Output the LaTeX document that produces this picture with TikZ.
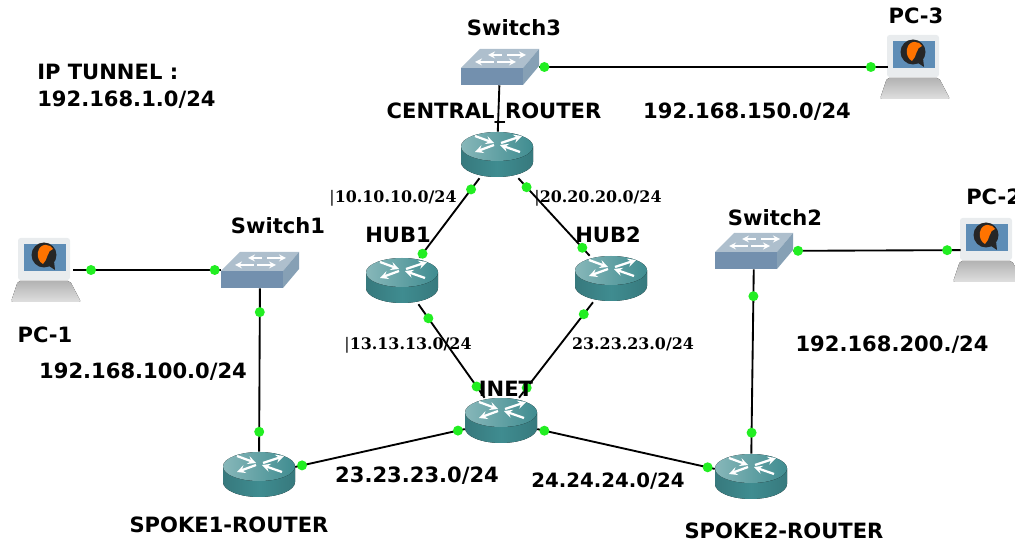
\documentclass[tikz,border=0pt]{standalone}
\usepackage{fontspec}
\setmainfont{DejaVu Sans}
\newfontfamily\netserif{DejaVu Serif}
\usepackage{tikz}
\usetikzlibrary{arrows}
\definecolor{routertop}{HTML}{5F9FA2}
\definecolor{routerbody}{HTML}{3F8C90}
\definecolor{routerdark}{HTML}{37797D}
\definecolor{switchtop}{HTML}{AEBFCD}
\definecolor{switchfront}{HTML}{7390AE}
\definecolor{switchside}{HTML}{86A0B5}
\definecolor{portgreen}{HTML}{22EE22}
\definecolor{pcframe}{HTML}{E9ECEE}
\definecolor{pcscreen}{HTML}{5E8DB6}
\newcommand{\routericon}{
\begin{scope}[shift={(path picture bounding box.center)}, x=0.75pt, y=0.75pt]
    \fill [left color=routerdark, right color=routerdark, middle color=routerbody]
        (-36,8.5) -- (-36,-7) arc [start angle=180, end angle=360, x radius=36, y radius=15] -- (36,8.5) -- cycle;
    \fill [left color=routertop!75!white, right color=routerbody] (0,8.5) ellipse [x radius=36, y radius=14.5];
    \draw [white, line width=1.7pt, -stealth] (-22,19) -- (-3,12);
    \draw [white, line width=1.7pt, -stealth] (4,12) -- (25,19);
    \draw [white, line width=1.7pt, -stealth] (-3,10) -- (-22,3);
    \draw [white, line width=1.7pt, -stealth] (23,3) -- (3,10);
\end{scope}}
\newcommand{\switchicon}{
\begin{scope}[shift={(path picture bounding box.center)}, x=0.75pt, y=0.75pt]
    \fill [switchtop] (-39,-1) -- (23,-1) -- (39,18) -- (-20,18) -- cycle;
    \fill [switchfront] (-39,-18) rectangle (23,-1);
    \fill [switchside] (23,-1) -- (39,18) -- (39,1) -- (23,-18) -- cycle;
    \draw [white, line width=1.3pt, -stealth] (2,12) -- (-12,12);
    \draw [white, line width=1.3pt, -stealth] (7,12) -- (26,12);
    \draw [white, line width=1.3pt, -stealth] (-6,5) -- (-25,5);
    \draw [white, line width=1.3pt, -stealth] (-3,5) -- (16,5);
\end{scope}}
\newcommand{\pcicon}{
\begin{scope}[shift={(path picture bounding box.center)}, x=0.75pt, y=0.75pt]
    \fill [top color=gray!60, bottom color=gray!25, rounded corners=1.5pt] (-28,-11) -- (24,-11) -- (35,-32) -- (-35,-32) -- cycle;
    \fill [pcframe, rounded corners=2pt] (-28,32) rectangle (24,-10);
    \fill [pcscreen] (-22,26) rectangle (20,-1);
    \fill [black!85] (-2,15) circle [radius=12.5];
    \fill [black!85] (3,4) -- (9,0) -- (8,9) -- cycle;
    \fill [orange!90!red] (-8,18) .. controls (-6,28) and (5,26) .. (7,21) .. controls (1,20) and (2,10) .. (-3,6) .. controls (-7,8) and (-9,13) .. (-8,18);
\end{scope}}
\tikzstyle{router} = [rectangle, minimum width=54pt, minimum height=34.5pt, inner sep=0pt, path picture={\routericon}]
\tikzstyle{switchbox} = [rectangle, minimum width=58.5pt, minimum height=27pt, inner sep=0pt, path picture={\switchicon}]
\tikzstyle{pc} = [rectangle, minimum width=52.5pt, minimum height=48pt, inner sep=0pt, path picture={\pcicon}]
\tikzstyle{link} = [line width=1.4pt, black]
\tikzstyle{portdot} = [circle, fill=portgreen, minimum size=7.5pt, inner sep=0pt]
\tikzstyle{devtext} = [inner sep=0pt, font=\bfseries\fontsize{15.8}{20}\selectfont]
\tikzstyle{nettext} = [inner sep=0pt, font=\netserif\bfseries\fontsize{11.9}{14}\selectfont]

\begin{document}
\begin{tikzpicture}[node distance=75pt, x=0.75pt, y=-0.75pt]
    \useasboundingbox (0,0) rectangle (1015,545);
    \node (central) [router] at (497,155) {};
    \node (switch3) [switchbox, above of=central, xshift=2.25pt, yshift=-9pt] {};
    \node (hub1) [router, below of=central, xshift=-71.25pt, yshift=-19.5pt] {};
    \node (hub2) [router, below of=central, xshift=85.5pt, yshift=-18pt] {};
    \node (inet) [router, below of=hub1, xshift=74.25pt, yshift=-30pt] {};
    \node (spoke1) [router, left of=inet, xshift=-106.5pt, yshift=-40.5pt] {};
    \node (spoke2) [router, right of=inet, xshift=112.5pt, yshift=-42pt] {};
    \node (switch1) [switchbox, above of=spoke1, xshift=0.75pt, yshift=78.75pt] {};
    \node (switch2) [switchbox, above of=spoke2, xshift=2.25pt, yshift=94.5pt] {};
    \node (pc1) [pc, left of=switch1, xshift=-85.5pt] {};
    \node (pc2) [pc, right of=switch2, xshift=100.5pt, yshift=0.75pt] {};
    \node (pc3) [pc, right of=switch3, xshift=236.25pt] {};

    \draw [link] (switch3) -- (central);
    \draw [link, shorten >=-6pt] (switch3) -- node (d1) [portdot, pos=0.015] {} node (d2) [portdot, pos=0.974] {} (pc3);
    \draw [link] (central) -- node (d3) [portdot, pos=0.14] {} node (d4) [portdot, pos=0.95] {} (hub1);
    \draw [link] (central) -- node (d5) [portdot, pos=0.115] {} node (d6) [portdot, pos=0.897] {} (hub2);
    \draw [link] (hub1) -- node (d7) [portdot, pos=0.15] {} node (d8) [portdot, pos=0.88] {} (inet);
    \draw [link] (hub2) -- node (d9) [portdot, pos=0.125] {} node (d10) [portdot, pos=0.896] {} (inet);
    \draw [link] (inet) -- node (d11) [portdot, pos=0.04] {} node (d12) [portdot, pos=0.96] {} (spoke1);
    \draw [link] (inet) -- node (d13) [portdot, pos=0.04] {} node (d14) [portdot, pos=0.96] {} (spoke2);
    \draw [link] (switch1) -- node (d15) [portdot, pos=0.146] {} node (d16) [portdot, pos=0.878] {} (spoke1);
    \draw [link] (switch2) -- node (d17) [portdot, pos=0.146] {} node (d18) [portdot, pos=0.886] {} (spoke2);
    \draw [link, shorten <=-6pt] (pc1) -- node (d19) [portdot, pos=0.07] {} node (d20) [portdot, pos=0.957] {} (switch1);
    \draw [link, shorten >=-6pt] (switch2) -- node (d21) [portdot, pos=0.03] {} node (d22) [portdot, pos=0.965] {} (pc2);

    \node (switch3text) [devtext] at (514,28) {Switch3};
    \node (centraltext) [devtext] at (494,113) {CENTRAL\_ROUTER};
    \node (pc3text) [devtext] at (916,16) {PC-3};
    \node (switch1text) [devtext] at (278,226) {Switch1};
    \node (switch2text) [devtext] at (775,218) {Switch2};
    \node (pc1text) [devtext] at (45,335) {PC-1};
    \node (pc2text) [devtext, anchor=west] at (966,197) {PC-2};
    \node (hub1text) [devtext] at (398,235) {HUB1};
    \node (hub2text) [devtext] at (608,235) {HUB2};
    \node (inettext) [devtext] at (506,389) {INET};
    \node (spoke1text) [devtext] at (229,525) {SPOKE1-ROUTER};
    \node (spoke2text) [devtext] at (784,531) {SPOKE2-ROUTER};
    \node (tunneltext) [devtext, anchor=west, align=left] at (37,86) {IP TUNNEL :\\192.168.1.0/24};
    \node (net150) [devtext] at (747,112) {192.168.150.0/24};
    \node (net100) [devtext] at (143,372) {192.168.100.0/24};
    \node (net200) [devtext] at (892,345) {192.168.200./24};
    \node (net23low) [devtext] at (417,476) {23.23.23.0/24};
    \node (net24) [devtext, font=\bfseries\fontsize{14.8}{18}\selectfont] at (608,481) {24.24.24.0/24};
    \node (net10) [nettext] at (393,198) {{\mdseries|}10.10.10.0/24};
    \node (net20) [nettext] at (598,198) {{\mdseries|}20.20.20.0/24};
    \node (net13) [nettext] at (408,345) {{\mdseries|}13.13.13.0/24};
    \node (net23) [nettext] at (633,344) {23.23.23.0/24};
\end{tikzpicture}
\end{document}
